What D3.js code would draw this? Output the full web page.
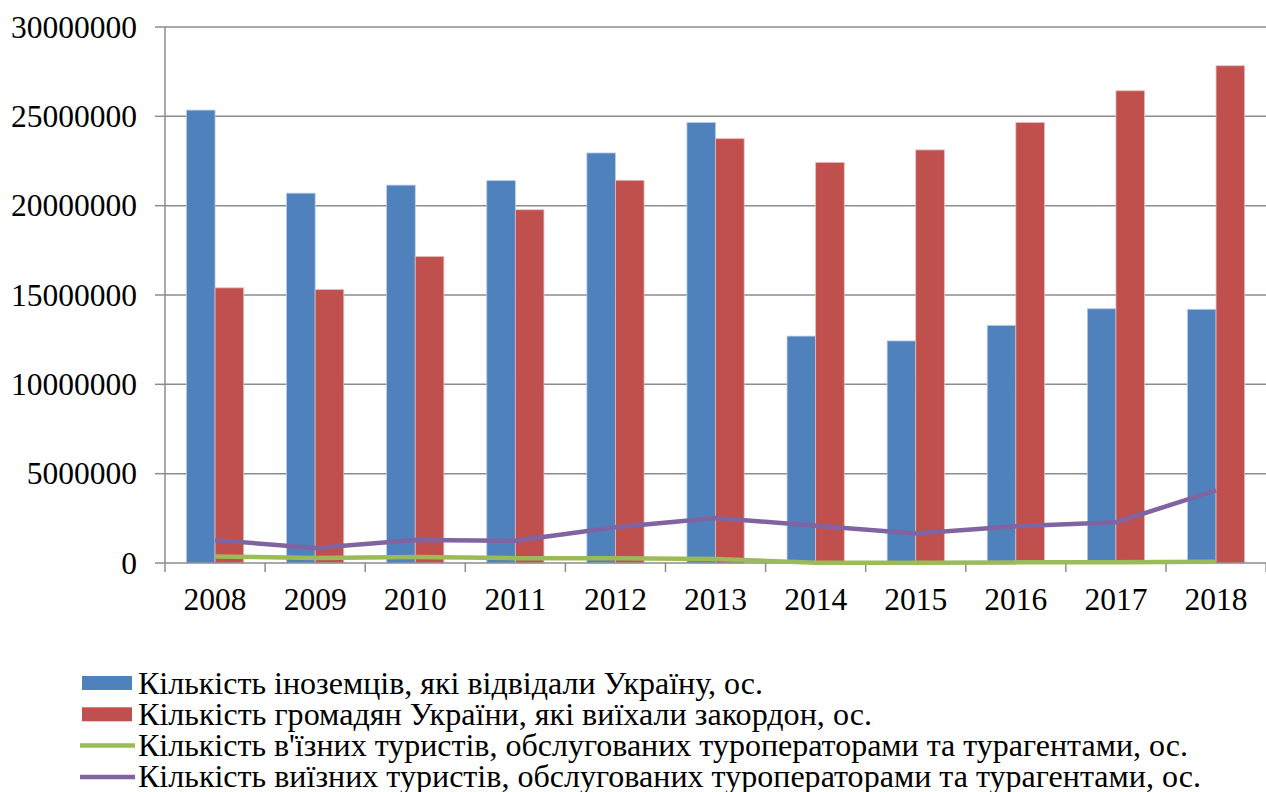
<meta charset="utf-8">
<body style="margin:0">
<svg width="1266" height="792"></svg>
<script src="https://cdn.jsdelivr.net/npm/d3@7"></script>
<script>

// data
var years = ["2008","2009","2010","2011","2012","2013","2014","2015","2016","2017","2018"];
var foreigners = [25350000, 20700000, 21150000, 21400000, 22950000, 24650000, 12700000, 12430000, 13300000, 14230000, 14200000];
var citizensOut = [15400000, 15300000, 17150000, 19770000, 21420000, 23750000, 22420000, 23120000, 24650000, 26430000, 27830000];
var inboundTourists = [370000, 280000, 330000, 270000, 270000, 230000, 17000, 15000, 35000, 39000, 75000];
var outboundTourists = [1280000, 840000, 1290000, 1250000, 2000000, 2520000, 2090000, 1650000, 2060000, 2280000, 4060000];
var yTicks = [0, 5000000, 10000000, 15000000, 20000000, 25000000, 30000000];

var legendNames = [
  "Кількість  іноземців,  які відвідали  Україну, ос.",
  "Кількість громадян України, які виїхали закордон, ос.",
  "Кількість в'їзних туристів, обслугованих туроператорами та турагентами, ос.",
  "Кількість виїзних туристів, обслугованих туроператорами та турагентами, ос."
];
var legendWidths = [625, 734, 1050, 1063];
var colors = ["#4f81bd", "#c0504d", "#9bbb59", "#8064a2"];
var FONT = "Times New Roman";

var svg = d3.select("svg");
svg.append("rect").attr("width", 1266).attr("height", 792).attr("fill", "#fff");

var plotL = 165, plotR = 1266, plotT = 27, plotB = 563;

var x = d3.scaleBand().domain(years).range([plotL, plotL + 100.1 * 11]);
var y = d3.scaleLinear().domain([0, 30000000]).range([plotB, plotT]);

// gridlines
svg.append("g")
  .selectAll("line")
  .data(yTicks.filter(function(d){ return d > 0; }))
  .enter().append("line")
  .attr("x1", plotL).attr("x2", plotR)
  .attr("y1", function(d){ return y(d); })
  .attr("y2", function(d){ return y(d); })
  .attr("stroke", "#8c8c8c")
  .attr("stroke-width", 1.5);

// bars - gap width ~150%
var barW = x.bandwidth() / 3.5;
[foreigners, citizensOut].forEach(function(vals, s){
  svg.append("g")
    .selectAll("rect")
    .data(vals)
    .enter().append("rect")
    .attr("x", function(d, i){ return x(years[i]) + x.bandwidth() / 2 - barW + s * barW; })
    .attr("y", function(d){ return y(d); })
    .attr("width", barW)
    .attr("height", function(d){ return plotB - y(d); })
    .attr("fill", colors[s])
    .attr("stroke", s == 0 ? "#b9cde5" : "#e6b9b8")
    .attr("stroke-width", 0.8);
});

// axes lines and ticks
svg.append("line")
  .attr("x1", plotL).attr("x2", plotL).attr("y1", plotT).attr("y2", plotB)
  .attr("stroke", "#8c8c8c").attr("stroke-width", 1.5);
svg.append("line")
  .attr("x1", plotL).attr("x2", plotR).attr("y1", plotB).attr("y2", plotB)
  .attr("stroke", "#8c8c8c").attr("stroke-width", 1.5);
svg.append("g")
  .selectAll("line")
  .data(yTicks)
  .enter().append("line")
  .attr("x1", plotL - 10).attr("x2", plotL)
  .attr("y1", function(d){ return y(d); })
  .attr("y2", function(d){ return y(d); })
  .attr("stroke", "#8c8c8c").attr("stroke-width", 1.5);
svg.append("g")
  .selectAll("line")
  .data(years.concat(["end"]))
  .enter().append("line")
  .attr("x1", function(d, i){ return plotL + i * x.step(); })
  .attr("x2", function(d, i){ return plotL + i * x.step(); })
  .attr("y1", plotB).attr("y2", plotB + 9)
  .attr("stroke", "#8c8c8c").attr("stroke-width", 1.5);

// tick labels, appended straight to the svg
yTicks.forEach(function(d){
  svg.append("text")
    .attr("x", 137).attr("y", y(d) + 10.5)
    .attr("text-anchor", "end")
    .style("font-family", FONT).style("font-size", "31.5px")
    .text(d3.format("d")(d));
});
years.forEach(function(d){
  svg.append("text")
    .attr("x", x(d) + x.bandwidth() / 2).attr("y", 610)
    .attr("text-anchor", "middle")
    .style("font-family", FONT).style("font-size", "31.5px")
    .text(d);
});

// lines
var line = d3.line()
  .x(function(d, i){ return x(years[i]) + x.bandwidth() / 2; })
  .y(function(d){ return y(d); });

[inboundTourists, outboundTourists].forEach(function(vals, s){
  svg.append("path")
    .attr("d", line(vals))
    .attr("fill", "none")
    .attr("stroke", colors[s + 2])
    .attr("stroke-width", 4.5)
    .attr("stroke-linejoin", "round");
});

// legend
legendNames.forEach(function(name, i){
  var cy = 683 + i * 31.3;
  if (i < 2) {
    svg.append("rect")
      .attr("x", 82).attr("y", cy - 7).attr("width", 50).attr("height", 14)
      .attr("fill", colors[i]);
  } else {
    svg.append("line")
      .attr("x1", 80).attr("x2", 135).attr("y1", cy).attr("y2", cy)
      .attr("stroke", colors[i]).attr("stroke-width", 4.5);
  }
  svg.append("text")
    .attr("x", 138).attr("y", cy + 10.5)
    .style("font-family", FONT).style("font-size", "32px")
    .attr("textLength", legendWidths[i])
    .attr("lengthAdjust", "spacingAndGlyphs")
    .text(name);
});

</script>
</body>
